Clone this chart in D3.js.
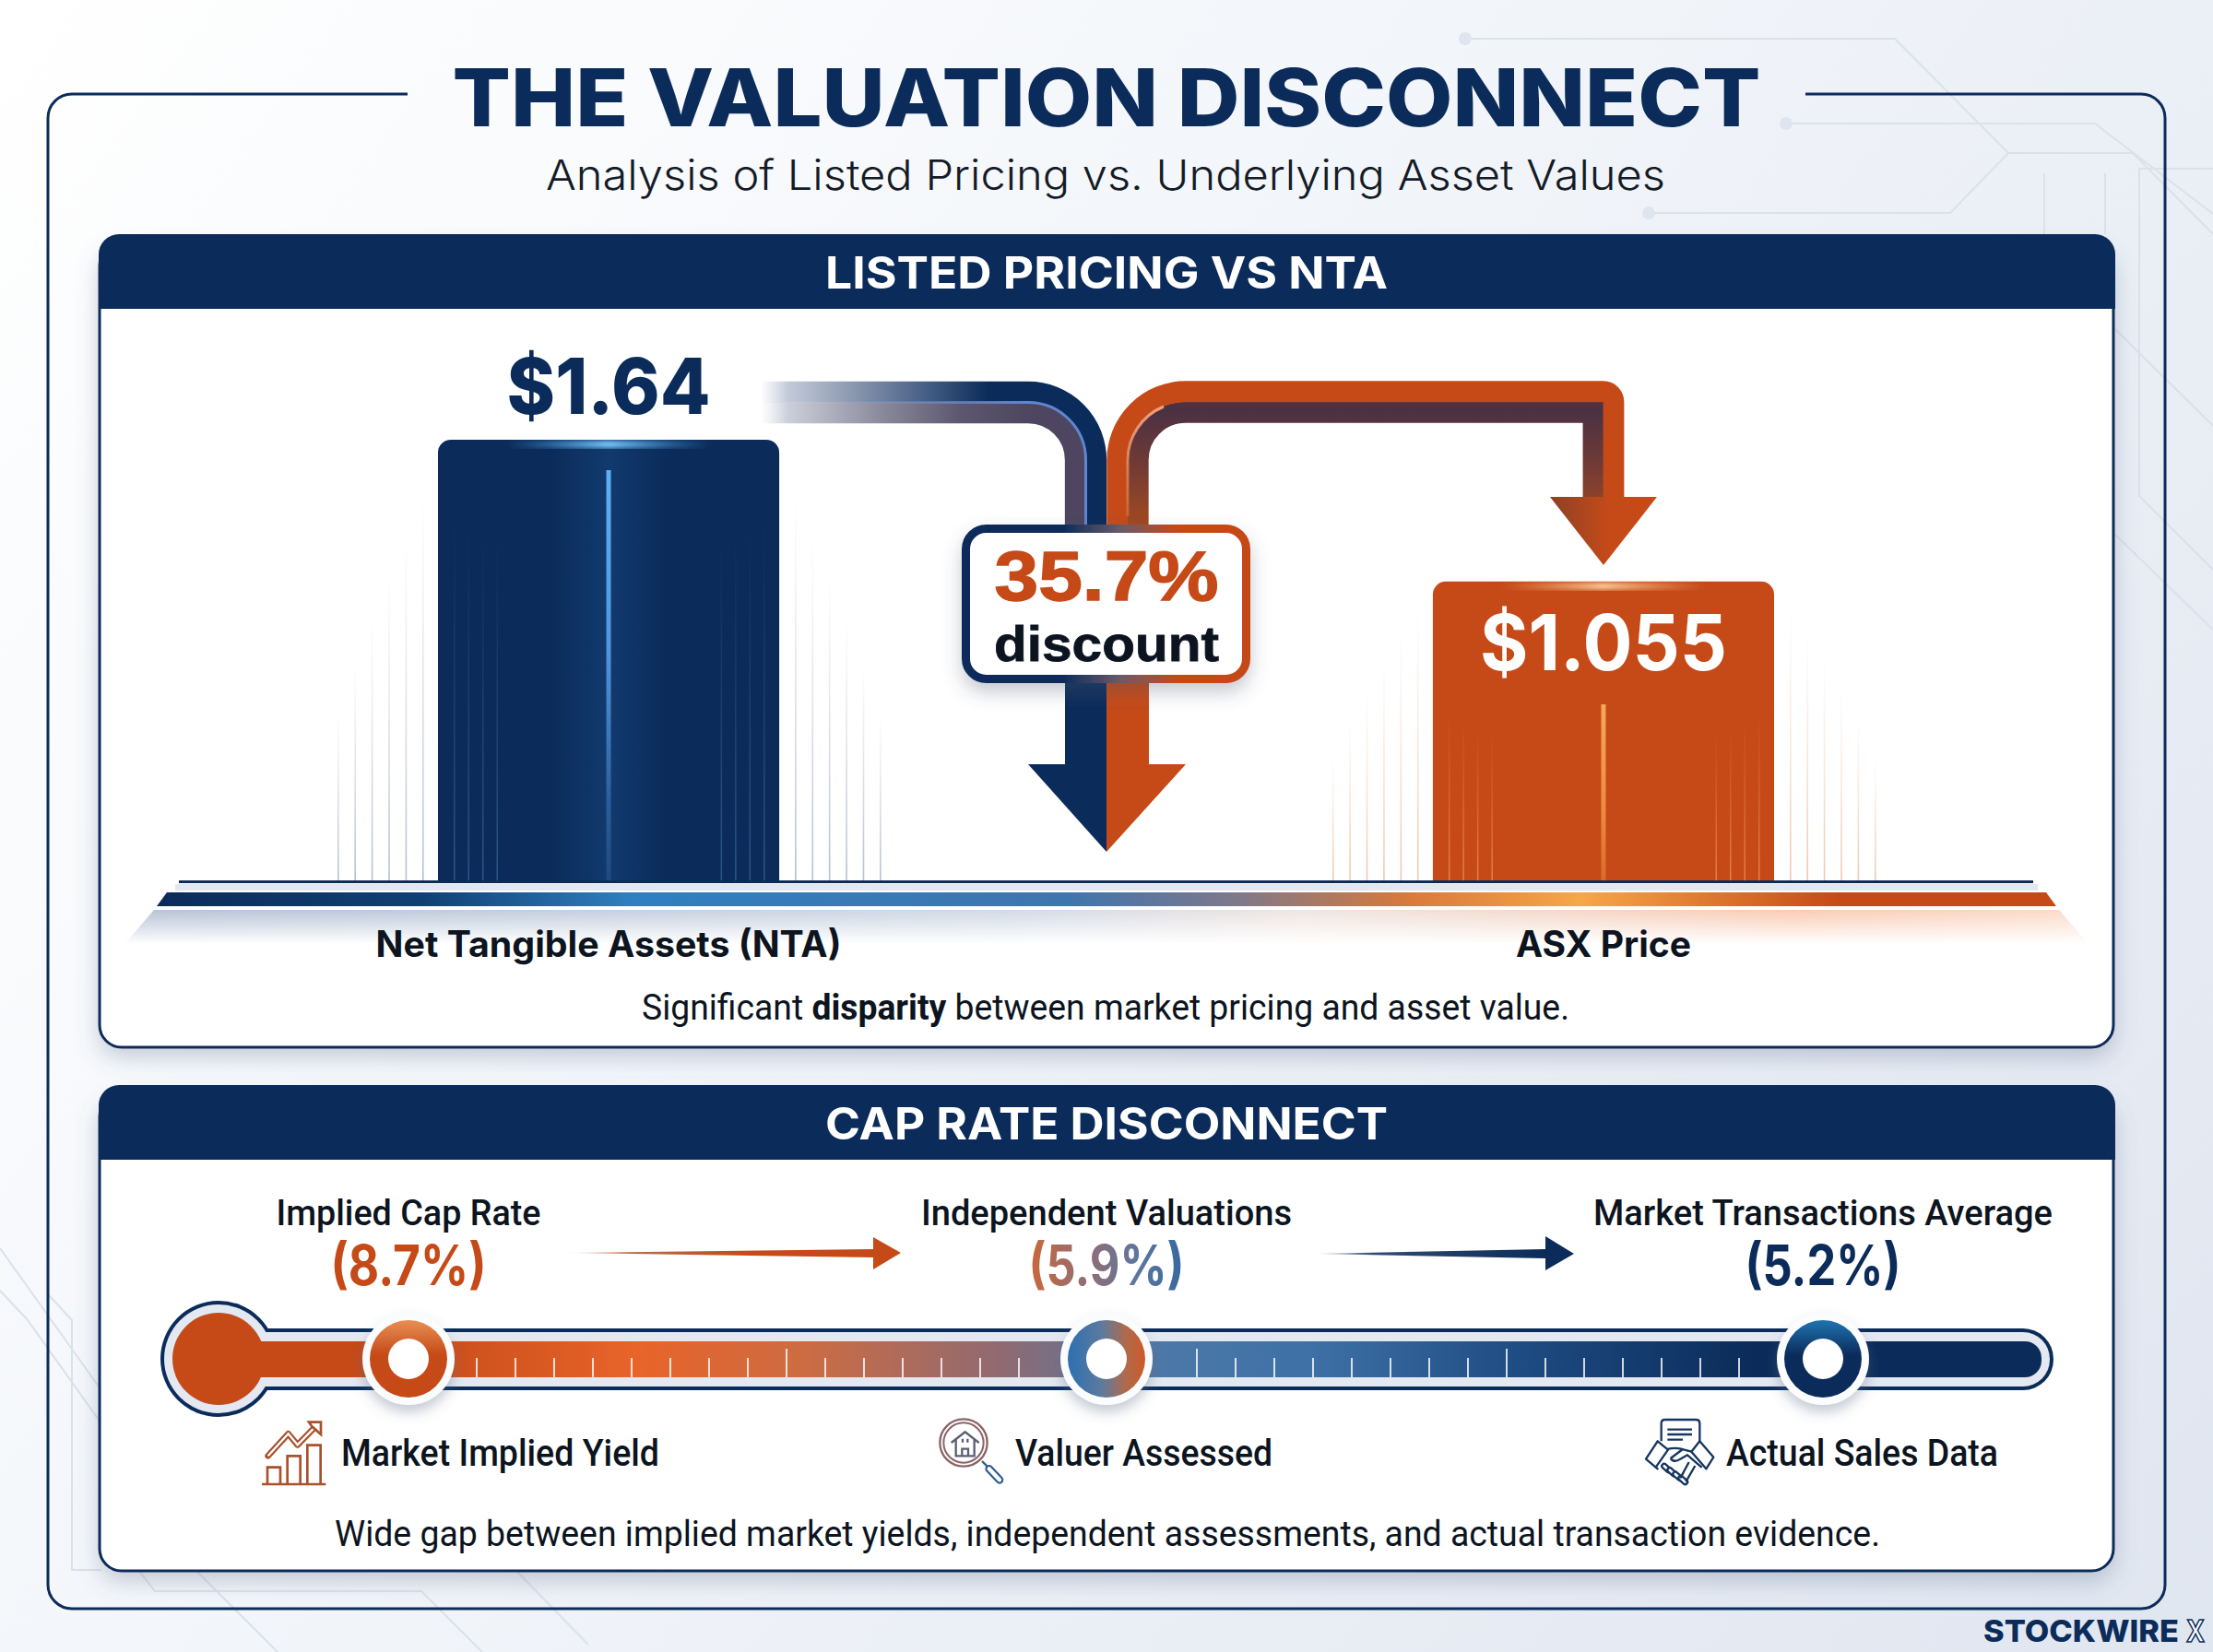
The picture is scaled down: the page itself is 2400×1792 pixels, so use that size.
<!DOCTYPE html>
<html>
<head>
<meta charset="utf-8">
<title>The Valuation Disconnect</title>
<script src="https://cdn.jsdelivr.net/npm/d3@7"></script>
<style>
  html, body { margin: 0; padding: 0; background: #fff; }
  svg { display: block; }
  text { font-family: "Roboto", sans-serif; }
  .head { font-family: "Inter", sans-serif; }
  .badge { font-family: "Liberation Sans", sans-serif; }
</style>
</head>
<body>
<script>
var w = 2400;
var h = 1792;

// Data
var priceCategories = ["Net Tangible Assets (NTA)", "ASX Price"];
var priceValues = [1.64, 1.055];
var priceLabels = ["$1.64", "$1.055"];
var discountLabel = "35.7%";

var capCategories = ["Implied Cap Rate", "Independent Valuations", "Market Transactions Average"];
var capValues = [8.7, 5.9, 5.2];
var capCaptions = ["Market Implied Yield", "Valuer Assessed", "Actual Sales Data"];

var navy = "#0b2c5a";
var orange = "#c54a18";
var ink = "#0c1420";

var svg = d3.select("body").append("svg")
    .attr("width", w)
    .attr("height", h)
    .attr("viewBox", "0 0 " + w + " " + h);

var defs = svg.append("defs");

// Gradient helper, always in page coordinates unless bbox is set
function gradient(id, x1, y1, x2, y2, stops, bbox) {
    var g = defs.append("linearGradient").attr("id", id)
        .attr("x1", x1).attr("y1", y1).attr("x2", x2).attr("y2", y2)
        .attr("gradientUnits", bbox ? "objectBoundingBox" : "userSpaceOnUse");
    stops.forEach(function(s) {
        g.append("stop").attr("offset", s[0]).attr("stop-color", s[1])
            .attr("stop-opacity", s.length > 2 ? s[2] : 1);
    });
}

gradient("bg", 0, 0, w, h, [[0, "#ffffff"], [0.4, "#f3f6fa"], [1, "#e0e6f0"]]);
gradient("navyOuter", 825, 0, 1115, 0, [[0, "#c9d1dd", 0], [0.1, "#c3cbd9"], [0.4, "#7d8ca6"], [0.6, "#4a6288"], [0.85, navy], [1, navy]]);
gradient("navyInner", 825, 0, 1115, 0, [[0, "#d7dbe3", 0], [0.1, "#ccd0da"], [0.45, "#8a8a9c"], [0.75, "#5c566f"], [1, "#4e4660"]]);
gradient("navyGlint", 900, 0, 1115, 0, [[0, "#7f9fd6", 0], [1, "#5f86cf"]]);
gradient("orangeInner", 0, 447, 0, 569, [[0, "#4c3143"], [0.45, "#6f3a35"], [0.8, "#8f4428"], [1, "#a3471f"]]);
gradient("headRight", 1681, 0, 1745, 0, [[0, "#8d4127"], [1, orange]]);
gradient("orangeGlint", 0, 440, 0, 560, [[0, "#f2a27c"], [1, "#f2a27c", 0.3]]);
gradient("badge", 1043, 0, 1356, 0, [[0, navy], [0.35, navy], [0.55, "#6b5a6a"], [0.75, orange], [1, orange]]);
gradient("plinth", 170, 0, 2230, 0, [[0, navy], [0.14, "#104074"], [0.25, "#2f7fc0"], [0.48, "#3f75ad"], [0.57, "#80788a"], [0.66, "#d97a3a"], [0.75, "#f6a748"], [0.885, orange], [1, orange]]);
gradient("plinthShade", 135, 0, 2265, 0, [[0, "#b6c3d6"], [0.45, "#d2dae6"], [0.6, "#efe6e2"], [0.85, "#f9ccb4"], [1, "#fbdccb"]]);
gradient("plinthFade", 0, 987, 0, 1024, [[0, "#fff"], [1, "#000"]]);
gradient("barNta", 475, 0, 845, 0, [[0, navy], [0.33, navy], [0.5, "#113a6e"], [0.67, navy], [1, navy]]);
gradient("coreNta", 0, 0, 0, 1, [[0, "#5db0f5"], [0.45, "#4f95dc"], [0.8, "#2c5f9a"], [1, "#1d4a80"]], true);
gradient("coreAsx", 0, 0, 0, 1, [[0, "#f6a85a"], [0.6, "#ee8a3f"], [1, "#db6a2a"]], true);
gradient("glowNta", 0, 0, 1, 0, [[0, "#45a4f5", 0], [0.5, "#7ccbff"], [1, "#45a4f5", 0]], true);
gradient("glowAsx", 0, 0, 1, 0, [[0, "#f6b070", 0], [0.5, "#fbcd9e"], [1, "#f6b070", 0]], true);
gradient("sideNta", 0, 0, 0, 1, [[0, "#c4cdd9", 0], [1, "#b4bfce"]], true);
gradient("sideAsx", 0, 0, 0, 1, [[0, "#f3d6c2", 0], [1, "#efc7ad"]], true);
gradient("innerNta", 0, 0, 0, 1, [[0, "#3f6ea8", 0], [1, "#4f7fb8", 0.5]], true);
gradient("innerAsx", 0, 0, 0, 1, [[0, "#f08a45", 0], [1, "#f59a55", 0.7]], true);
gradient("track", 237, 0, 2214, 0, [[0, orange], [0.1, orange], [0.23, "#e8642a"], [0.32, "#cd6c42"], [0.43, "#8f6a72"], [0.52, "#4b78a8"], [0.6, "#3e70a6"], [0.72, "#1d4a80"], [0.84, navy], [1, navy]]);
gradient("arrowOrange", 616, 0, 947, 0, [[0, orange, 0.15], [0.2, "#a9532f", 0.85], [0.6, orange], [1, orange]]);
gradient("arrowNavy", 1427, 0, 1676, 0, [[0, navy, 0.15], [0.25, navy, 0.85], [1, navy]]);
gradient("midValue", 1116, 0, 1284, 0, [[0, "#c9683c"], [0.45, "#866f7e"], [0.7, "#5b779f"], [1, "#36689e"]]);
// Node gradients live in each node's own translated coordinates
gradient("node0", 0, -42, 0, 42, [[0, "#e88f55"], [0.45, orange], [1, orange]]);
gradient("node1", -42, 0, 42, 0, [[0, "#2b70b2"], [0.45, "#5f7a9c"], [0.75, "#b06a4c"], [1, "#cd5a28"]]);
gradient("node2", 0, -42, 0, 42, [[0, "#1f74b2"], [0.45, navy], [1, navy]]);

var mask = defs.append("mask").attr("id", "plinthMask")
    .attr("maskUnits", "userSpaceOnUse")
    .attr("x", 0).attr("y", 980).attr("width", w).attr("height", 50);
mask.append("rect").attr("x", 0).attr("y", 980).attr("width", w).attr("height", 50).attr("fill", "url(#plinthFade)");

function shadow(id, dy, blur, color, alpha) {
    var f = defs.append("filter").attr("id", id)
        .attr("x", "-10%").attr("y", "-30%").attr("width", "120%").attr("height", "170%");
    f.append("feDropShadow").attr("dx", 0).attr("dy", dy).attr("stdDeviation", blur)
        .attr("flood-color", color).attr("flood-opacity", alpha);
}
shadow("panelShadow", 10, 12, "#5c6f8c", 0.32);
shadow("badgeShadow", 10, 10, "#4d5a70", 0.32);
shadow("nodeShadow", 8, 7, "#5a6a84", 0.35);
defs.append("filter").attr("id", "soft").append("feGaussianBlur").attr("stdDeviation", 2.5);

// Text helper, squeezes the run to the measured width of the reference
function label(g, str, x, y, size, weight, fill, width, cls) {
    var t = g.append("text")
        .attr("x", x).attr("y", y)
        .attr("text-anchor", "middle")
        .attr("font-size", size)
        .attr("font-weight", weight)
        .attr("fill", fill)
        .text(str);
    if (cls) t.attr("class", cls);
    if (width) t.attr("textLength", width).attr("lengthAdjust", "spacingAndGlyphs");
    return t;
}

// Background and faint circuit lines
svg.append("rect").attr("width", w).attr("height", h).attr("fill", "url(#bg)");

var circuit = svg.append("g").attr("fill", "none").attr("stroke", "#dbe1ea").attr("stroke-width", 2);
[
    "M1589 42H2055L2178 166H2313L2400 254",
    "M1937 134H2272L2400 232",
    "M1788 231H2115L2178 166",
    "M2217 188V254M2283 188V254",
    "M2400 183H2320V538L2400 618",
    "M2294 357L2400 462",
    "M2294 580L2400 683",
    "M0 1354L107 1504",
    "M0 1400L30 1432L107 1540",
    "M52 1404L78 1432V1703H110",
    "M150 1703L168 1726H457L523 1792",
    "M214 1705L301 1792",
    "M561 1705L638 1784"
].forEach(function(d) { circuit.append("path").attr("d", d); });

svg.append("g").attr("fill", "#dfe5ee").selectAll("circle")
    .data([[1589, 42], [1937, 134], [1788, 231]])
    .join("circle")
    .attr("cx", function(d) { return d[0]; })
    .attr("cy", function(d) { return d[1]; })
    .attr("r", 7);

// Outer frame, open at the top for the title
svg.append("path")
    .attr("d", "M442 102H78A26 26 0 0 0 52 128V1719A26 26 0 0 0 78 1745H2322A26 26 0 0 0 2348 1719V128A26 26 0 0 0 2322 102H1958")
    .attr("fill", "none")
    .attr("stroke", navy)
    .attr("stroke-width", 3);

label(svg, "THE VALUATION DISCONNECT", 1200, 137, 86, 800, navy, 1419, "head");
label(svg, "Analysis of Listed Pricing vs. Underlying Asset Values", 1199, 206, 45, 300, "#141b26", 1214, "head");

// Panels
function panel(top, headBottom, bottom, title) {
    var g = svg.append("g");
    g.append("rect")
        .attr("x", 108).attr("y", top + 10)
        .attr("width", 2184).attr("height", bottom - top - 10)
        .attr("rx", 24)
        .attr("fill", "#fff")
        .attr("stroke", navy)
        .attr("stroke-width", 3)
        .attr("filter", "url(#panelShadow)");
    g.append("path")
        .attr("d", "M107 " + headBottom + "V" + (top + 22) + "A22 22 0 0 1 129 " + top + "H2272A22 22 0 0 1 2294 " + (top + 22) + "V" + headBottom + "Z")
        .attr("fill", navy);
    label(g, title, 1200, top + 59, 48, 700, "#fff", 610, "head");
}
panel(254, 335, 1136, "LISTED PRICING VS NTA");
panel(1177, 1258, 1704, "CAP RATE DISCONNECT");

// ---- Listed pricing bars ----
var baseY = 957;

var xPrice = d3.scaleBand()
    .domain(priceCategories)
    .range([475, 1924])
    .paddingInner(0.657);

// The picture's bars start from a cut axis, this floor reproduces their heights
var priceFloor = -0.186;
var yPrice = d3.scaleLinear()
    .domain([priceFloor, d3.max(priceValues)])
    .range([baseY, 477]);

var barFills = ["url(#barNta)", orange];
var sideFills = ["url(#sideNta)", "url(#sideAsx)"];
var innerFills = ["url(#innerNta)", "url(#innerAsx)"];
var coreFills = ["url(#coreNta)", "url(#coreAsx)"];
var glowFills = ["url(#glowNta)", "url(#glowAsx)"];
var sideTops = [[536, 581, 621, 670, 720, 773], [660, 683, 715, 744, 780, 822]];
var innerTops = [560, 773];
var coreTops = [510, 764];

var chart = svg.append("g");

priceCategories.forEach(function(cat, c) {
    var left = xPrice(cat);
    var right = left + xPrice.bandwidth();
    var mid = left + xPrice.bandwidth() / 2;
    var g = chart.append("g");

    // Fading rules either side of the bar
    sideTops[c].forEach(function(top, i) {
        [left - 17 - 18.4 * i, right + 17 + 18.4 * i].forEach(function(px) {
            g.append("rect")
                .attr("x", px).attr("y", top)
                .attr("width", 1.6).attr("height", baseY - top)
                .attr("fill", sideFills[c]);
        });
    });

    g.append("path")
        .attr("d", "M" + left + " " + baseY + "V" + (yPrice(priceValues[c]) + 14)
            + "a14 14 0 0 1 14 -14H" + (right - 14) + "a14 14 0 0 1 14 14V" + baseY + "Z")
        .attr("fill", barFills[c]);

    // Rules inside the bar
    d3.range(4).forEach(function(i) {
        [left + 17 + 15.5 * i, right - 17 - 15.5 * i].forEach(function(px) {
            g.append("rect")
                .attr("x", px).attr("y", innerTops[c] + i * 8)
                .attr("width", 1.5).attr("height", baseY - innerTops[c] - i * 8)
                .attr("fill", innerFills[c]);
        });
    });

    g.append("rect")
        .attr("x", mid - 110).attr("y", yPrice(priceValues[c]) + 1)
        .attr("width", 220).attr("height", 8)
        .attr("fill", glowFills[c])
        .attr("filter", "url(#soft)");

    g.append("rect")
        .attr("x", mid - 2.5).attr("y", coreTops[c])
        .attr("width", 5).attr("height", baseY - coreTops[c])
        .attr("fill", coreFills[c]);
});

// Baseline, plinth and shade below it
svg.append("rect").attr("x", 190).attr("y", 959).attr("width", 2020).attr("height", 7).attr("fill", "#e3e8f0");
svg.append("rect").attr("x", 194).attr("y", baseY - 2).attr("width", 2011).attr("height", 3).attr("fill", navy);
svg.append("path").attr("d", "M181 968H2219L2230 983H170Z").attr("fill", "url(#plinth)");
svg.append("path").attr("d", "M167 987H2233L2265 1024H135Z")
    .attr("fill", "url(#plinthShade)")
    .attr("mask", "url(#plinthMask)");

// Bar labels
label(svg, priceLabels[0], xPrice(priceCategories[0]) + xPrice.bandwidth() / 2, 449, 84, 800, navy, 221, "head");
label(svg, priceLabels[1], xPrice(priceCategories[1]) + xPrice.bandwidth() / 2, 727, 84, 700, "#fff", 268, "head");

priceCategories.forEach(function(cat, c) {
    label(svg, cat, xPrice(cat) + xPrice.bandwidth() / 2, 1038, 39, 700, ink, c === 0 ? 505 : 190, "head");
});

// Flow arrows, split into outer and inner halves of the band
var arrows = svg.append("g").attr("fill", "none");
var asxMid = xPrice(priceCategories[1]) + xPrice.bandwidth() / 2;

arrows.append("path").attr("d", "M825 425.25H1115A73.75 73.75 0 0 1 1188.75 499V600")
    .attr("stroke", "url(#navyOuter)").attr("stroke-width", 22.8);
arrows.append("path").attr("d", "M825 447.75H1115A51.25 51.25 0 0 1 1166.25 499V600")
    .attr("stroke", "url(#navyInner)").attr("stroke-width", 22.8);
arrows.append("path").attr("d", "M900 436.5H1115A62.5 62.5 0 0 1 1177.5 499V600")
    .attr("stroke", "url(#navyGlint)").attr("stroke-width", 3);

arrows.append("path").attr("d", "M1234.25 600V499A51.75 51.75 0 0 1 1286 447.25H" + (asxMid - 11) + "V545")
    .attr("stroke", "url(#orangeInner)").attr("stroke-width", 22.8);
arrows.append("path").attr("d", "M1211.75 600V499A74.25 74.25 0 0 1 1286 424.75H" + (asxMid) + "A11 11 0 0 1 " + (asxMid + 11) + " 435.75V545")
    .attr("stroke", orange).attr("stroke-width", 22.8);
arrows.append("path").attr("d", "M1223 560V499A63 63 0 0 1 1262 441")
    .attr("stroke", "url(#orangeGlint)").attr("stroke-width", 3);

svg.append("path").attr("d", "M" + (asxMid - 58) + " 539H" + (asxMid + 58) + "L" + asxMid + " 613Z")
    .attr("fill", "url(#headRight)");

// Down arrow under the badge
svg.append("path").attr("d", "M1155 700H1200V924L1115 829H1155Z").attr("fill", navy);
svg.append("path").attr("d", "M1200 700H1246V829H1286L1200 924Z").attr("fill", orange);

// Discount badge, the tighter metrics keep the two lines apart
svg.append("rect")
    .attr("x", 1047.5).attr("y", 573.5)
    .attr("width", 304).attr("height", 163)
    .attr("rx", 22)
    .attr("fill", "#fff")
    .attr("stroke", "url(#badge)")
    .attr("stroke-width", 9)
    .attr("filter", "url(#badgeShadow)");
label(svg, discountLabel, 1200, 651, 76, 700, orange, 243, "badge")
    .attr("stroke", orange).attr("stroke-width", 1.5);
label(svg, "discount", 1200, 717, 54, 700, ink, 244, "badge")
    .attr("stroke", ink).attr("stroke-width", 0.8);

// Panel caption with the bold word
var note = svg.append("text")
    .attr("x", 1199).attr("y", 1106)
    .attr("text-anchor", "middle")
    .attr("font-size", 39)
    .attr("fill", ink)
    .attr("textLength", 1006)
    .attr("lengthAdjust", "spacingAndGlyphs");
note.append("tspan").text("Significant ");
note.append("tspan").attr("font-weight", 700).text("disparity");
note.append("tspan").text(" between market pricing and asset value.");

// ---- Cap rate track ----
var xCap = d3.scaleLinear()
    .domain([0, 1, 2])
    .range([443, 1200, 1977]);
var trackY = 1474;

var track = svg.append("g");
track.append("circle").attr("cx", 237).attr("cy", trackY).attr("r", 63).attr("fill", navy);
track.append("rect").attr("x", 237).attr("y", 1441).attr("width", 1990).attr("height", 67).attr("rx", 33).attr("fill", navy);
track.append("circle").attr("cx", 237).attr("cy", trackY).attr("r", 59).attr("fill", "#e3e8f1");
track.append("rect").attr("x", 237).attr("y", 1445).attr("width", 1986).attr("height", 59).attr("rx", 29).attr("fill", "#e3e8f1");
track.append("circle").attr("cx", 237).attr("cy", trackY).attr("r", 50).attr("fill", orange);
track.append("rect").attr("x", 237).attr("y", 1455).attr("width", 1977).attr("height", 39).attr("rx", 18).attr("fill", "url(#track)");

// Scale ticks, every ninth one is taller
function ticks(start, stop, major) {
    track.append("g").selectAll("line")
        .data(d3.range(start, stop, 42))
        .join("line")
        .attr("x1", function(d) { return d; })
        .attr("x2", function(d) { return d; })
        .attr("y1", function(d, i) { return major.indexOf(i) >= 0 ? 1463 : 1473; })
        .attr("y2", 1494)
        .attr("stroke", "#fff")
        .attr("stroke-opacity", 0.8)
        .attr("stroke-width", 2);
}
ticks(517, 1110, [8]);
ticks(1298, 1890, [0, 8]);

var nodes = svg.append("g").selectAll("g")
    .data(capValues)
    .join("g")
    .attr("transform", function(d, i) { return "translate(" + xCap(i) + "," + trackY + ")"; });
nodes.append("circle").attr("r", 50).attr("fill", "#fbfcfd").attr("filter", "url(#nodeShadow)");
nodes.append("circle").attr("r", 42).attr("fill", function(d, i) { return "url(#node" + i + ")"; });
nodes.append("circle").attr("r", 22).attr("fill", "#fff");

// Cap rate labels above the track
var capWidths = [287, 402, 498];
var capFills = [orange, "url(#midValue)", navy];
capCategories.forEach(function(cat, i) {
    label(svg, cat, xCap(i), 1329, 39, 500, ink, capWidths[i]);
    label(svg, "(" + capValues[i].toFixed(1) + "%)", xCap(i), 1394, 60, 700, capFills[i], 169, "head");
});

// Thin arrows between the labels
svg.append("path").attr("d", "M616 1359L947 1355V1342L977 1359L947 1377V1364Z").attr("fill", "url(#arrowOrange)");
svg.append("path").attr("d", "M1427 1360L1676 1355V1341L1707 1360L1676 1378V1365Z").attr("fill", "url(#arrowNavy)");

// Captions under the track
var captionStarts = [370, 1101, 1872];
var captionWidths = [345, 279, 295];
capCaptions.forEach(function(cap, i) {
    label(svg, cap, captionStarts[i] + captionWidths[i] / 2, 1590, 40, 500, ink, captionWidths[i]);
});

// Small line icons
var chartIcon = svg.append("g")
    .attr("transform", "translate(270,1530) scale(0.3333)")
    .attr("fill", "none")
    .attr("stroke", "#a9502c")
    .attr("stroke-width", 8);
chartIcon.append("path").attr("d", "M42 240H250M60 240V185H102V240M125 240V148H167V240M190 240V113H233V240");
chartIcon.append("path").attr("d", "M62 148L128 76L158 112L213 56").attr("stroke-width", 20).attr("stroke-linejoin", "round").attr("stroke-linecap", "round");
chartIcon.append("path").attr("d", "M62 148L128 76L158 112L213 56").attr("stroke", "#fff").attr("stroke-width", 7);
chartIcon.append("path").attr("d", "M195 38H234V78L220 65L205 52Z").attr("fill", "#fff");

var lensIcon = svg.append("g")
    .attr("transform", "translate(1010,1530) scale(0.3333)")
    .attr("fill", "none");
lensIcon.append("circle").attr("cx", 105).attr("cy", 105).attr("r", 77).attr("stroke", "#8a6468").attr("stroke-width", 7);
lensIcon.append("circle").attr("cx", 105).attr("cy", 105).attr("r", 65).attr("stroke", "#8a6468").attr("stroke-width", 6);
lensIcon.append("path").attr("d", "M65 105L110 70L155 105M80 94V148H140V94M100 148V125H120V148M102 92V104M118 92V104")
    .attr("stroke", "#5b5f73").attr("stroke-width", 7);
lensIcon.append("path").attr("d", "M165 165L182 182").attr("stroke", "#2d5d8e").attr("stroke-width", 7);
lensIcon.append("path").attr("d", "M188 190L222 226").attr("stroke", "#2d5d8e").attr("stroke-width", 26).attr("stroke-linecap", "round");
lensIcon.append("path").attr("d", "M188 190L222 226").attr("stroke", "#fff").attr("stroke-width", 13).attr("stroke-linecap", "round");

var shakeIcon = svg.append("g")
    .attr("transform", "translate(1775,1530) scale(0.3333)")
    .attr("fill", "none")
    .attr("stroke", "#16355f")
    .attr("stroke-width", 7)
    .attr("stroke-linejoin", "round");
shakeIcon.append("path").attr("d", "M80 100V42Q80 30 92 30H193Q205 30 205 42V100M100 62H180M100 78H180M100 95H150");
shakeIcon.append("path").attr("d", "M68 100L102 128L62 185L30 158ZM205 100L250 152L226 190L178 134Z");
shakeIcon.append("path").attr("d", "M100 126Q130 118 155 128L178 134M110 156L150 126M110 156Q122 172 142 158L165 145L212 186M62 185L70 192");
d3.range(4).forEach(function(i) {
    shakeIcon.append("rect")
        .attr("x", 80 + i * 18).attr("y", 180 + i * 13)
        .attr("width", 34).attr("height", 15)
        .attr("rx", 7)
        .attr("transform", "rotate(42 " + (97 + i * 18) + " " + (187 + i * 13) + ")")
        .attr("fill", "#fff");
});
shakeIcon.append("path").attr("d", "M190 180L160 232M170 168L142 220");

label(svg, "Wide gap between implied market yields, independent assessments, and actual transaction evidence.", 1201, 1677, 39, 400, ink, 1676);

// Watermark
label(svg, "STOCKWIRE", 2257, 1781, 33, 800, navy, 212, "head");
label(svg, "X", 2381, 1781, 33, 700, "#fff", 20, "head")
    .attr("stroke", navy)
    .attr("stroke-width", 1.6);
</script>
</body>
</html>
